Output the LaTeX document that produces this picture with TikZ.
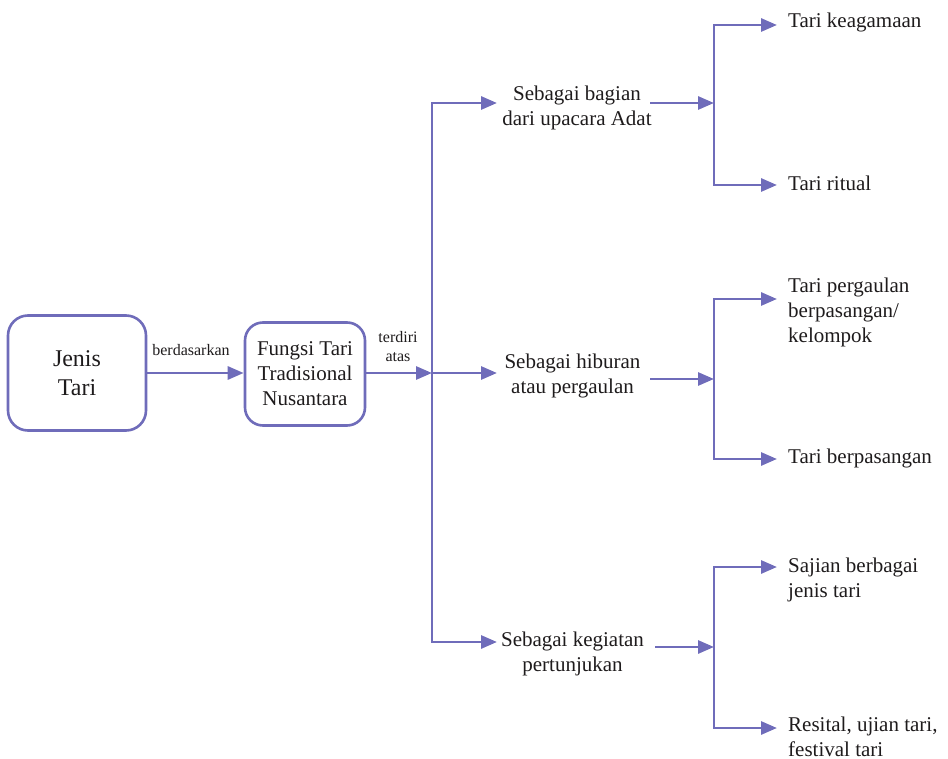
\documentclass[tikz,border=0pt]{standalone}
\usepackage{fontspec}
\setmainfont{Liberation Serif}
\usetikzlibrary{arrows.meta}
\definecolor{pcol}{RGB}{111,108,186}
\definecolor{tcol}{RGB}{30,27,28}
\begin{document}
\begin{tikzpicture}[x=1pt,y=-1pt,
  conn/.style={draw=pcol, line width=2.9pt},
  arr/.style={conn, -{Triangle[length=16pt,width=13pt]}},
  box/.style={draw=pcol, line width=2.6pt, align=center, text=tcol, inner sep=0pt},
  txt/.style={text=tcol, inner sep=0pt, font=\fontsize{21}{25}\selectfont},
  smalltxt/.style={text=tcol, inner sep=0pt, align=center, font=\fontsize{16}{19}\selectfont}]
\useasboundingbox (0,0) rectangle (948,759);

% left boxes
\node[box, minimum width=138pt, minimum height=115pt, rounded corners=20pt,
      font=\fontsize{24}{29}\selectfont] (jt) at (77,373) {Jenis\\Tari};
\node[box, minimum width=120pt, minimum height=103pt, rounded corners=18pt,
      font=\fontsize{21}{25}\selectfont] (fg) at (305,374) {Fungsi Tari\\Tradisional\\Nusantara};
\node[smalltxt, anchor=south] (lb1) at (191,356) {berdasarkan};
\node[smalltxt, anchor=south] (lb2) at (398,362) {terdiri\\atas};

\draw[arr] (jt.east) -- (fg.west |- jt.east);
\coordinate (J) at (432,373);
\draw[arr] (fg.east |- J) -- (J);

% level 1 texts
\node[txt, align=center, anchor=north] (s1) at (577,86) {Sebagai bagian\\dari upacara Adat};
\node[txt, align=center, anchor=north] (s2) at (572.5,353.5) {Sebagai hiburan\\atau pergaulan};
\node[txt, align=center, anchor=north] (s3) at (572.5,631.5) {Sebagai kegiatan\\pertunjukan};

\coordinate (a1) at (497,103);
\coordinate (a2) at (497,373);
\coordinate (a3) at (497,642);
\draw[arr] (J) |- (a1);
\draw[arr] (J) -- (a2);
\draw[arr] (J) |- (a3);

% level 2 connectors
\coordinate (o1) at (650,103);
\coordinate (o2) at (650,379);
\coordinate (o3) at (655,647);
\coordinate (b1) at (714,103);
\coordinate (b2) at (714,379);
\coordinate (b3) at (714,647);
\draw[arr] (o1) -- (b1);
\draw[arr] (o2) -- (b2);
\draw[arr] (o3) -- (b3);

\coordinate (t1) at (777,25);
\coordinate (t2) at (777,185);
\coordinate (t3) at (777,299);
\coordinate (t4) at (777,459);
\coordinate (t5) at (777,567);
\coordinate (t6) at (777,728);
\draw[arr] (b1) |- (t1);
\draw[arr] (b1) |- (t2);
\draw[arr] (b2) |- (t3);
\draw[arr] (b2) |- (t4);
\draw[arr] (b3) |- (t5);
\draw[arr] (b3) |- (t6);

% level 2 texts
\node[txt, align=left, anchor=north west] (r1) at (788,12.5) {Tari keagamaan};
\node[txt, align=left, anchor=north west] (r2) at (788,175.5) {Tari ritual};
\node[txt, align=left, anchor=north west] (r3) at (788,277.5) {Tari pergaulan\\berpasangan/\\kelompok};
\node[txt, align=left, anchor=north west] (r4) at (788,448.5) {Tari berpasangan};
\node[txt, align=left, anchor=north west] (r5) at (788,557.5) {Sajian berbagai\\jenis tari};
\node[txt, align=left, anchor=north west] (r6) at (788,716.5) {Resital, ujian tari,\\festival tari};
\end{tikzpicture}
\end{document}
